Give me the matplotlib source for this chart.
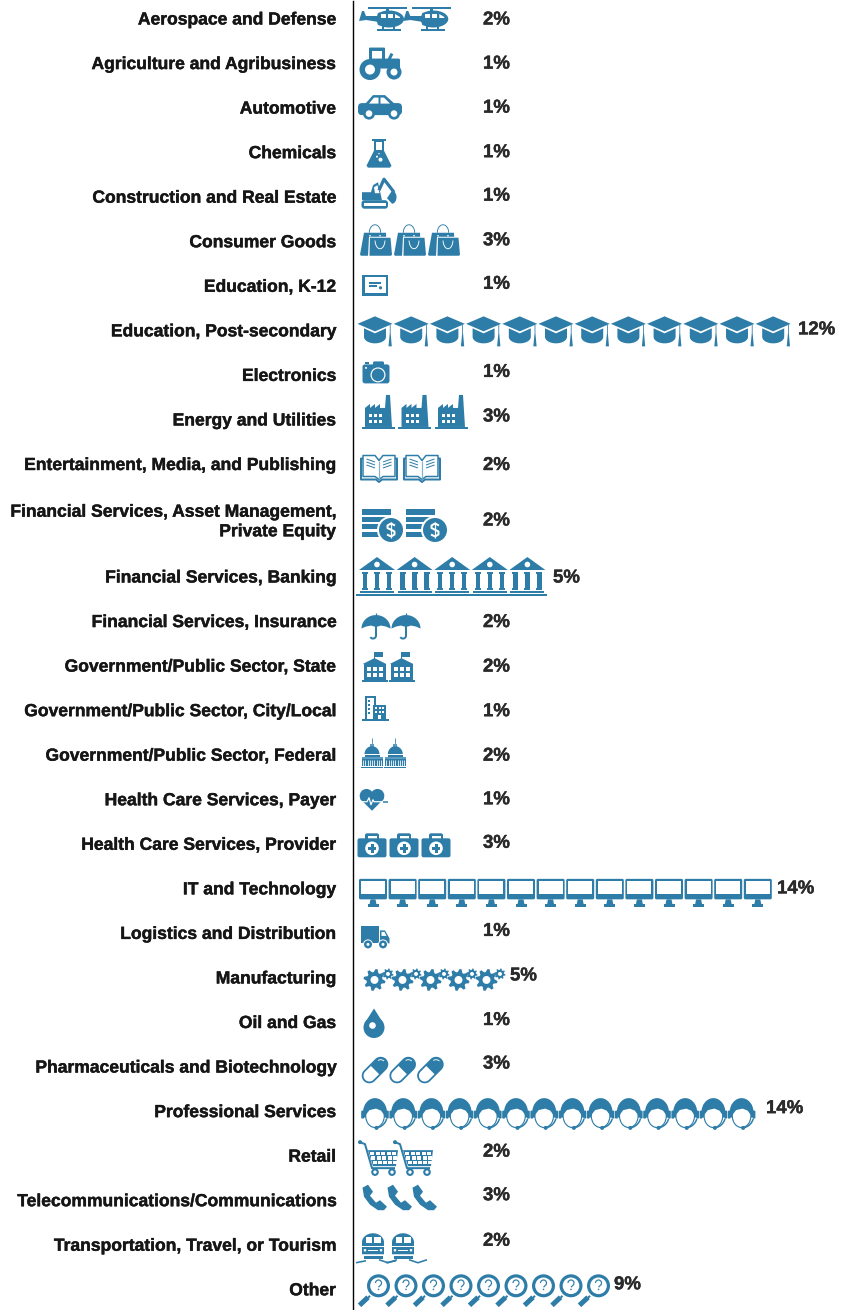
import matplotlib
matplotlib.use("Agg")
import matplotlib.pyplot as plt
import matplotlib.patheffects as pe
import numpy as np
from matplotlib.patches import Circle, Ellipse, FancyBboxPatch, Polygon, Rectangle

BLUE = "#2e7da8"
WHITE = "white"
plt.rcParams["font.family"] = ["Liberation Sans", "DejaVu Sans"]

categories = [
    "Aerospace and Defense", "Agriculture and Agribusiness", "Automotive", "Chemicals",
    "Construction and Real Estate", "Consumer Goods", "Education, K-12",
    "Education, Post-secondary", "Electronics", "Energy and Utilities",
    "Entertainment, Media, and Publishing",
    "Financial Services, Asset Management,\nPrivate Equity", "Financial Services, Banking",
    "Financial Services, Insurance", "Government/Public Sector, State",
    "Government/Public Sector, City/Local", "Government/Public Sector, Federal",
    "Health Care Services, Payer", "Health Care Services, Provider", "IT and Technology",
    "Logistics and Distribution", "Manufacturing", "Oil and Gas",
    "Pharmaceuticals and Biotechnology", "Professional Services", "Retail",
    "Telecommunications/Communications", "Transportation, Travel, or Tourism", "Other",
]
percents = [2, 1, 1, 1, 1, 3, 1, 12, 1, 3, 2, 2, 5, 2, 2, 1, 2, 1, 3, 14, 1, 5, 1, 3, 14, 2, 3, 2, 9]
icons = ["heli", "tractor", "car", "flask", "digger", "bag", "cert", "cap", "camera", "factory",
         "book", "coins", "bank", "umbrella", "state", "city", "capitol", "heart", "kit", "monitor",
         "truck", "gear", "drop", "pill", "head", "cart", "phone", "train", "lens"]

# icon layout: first centre x, pitch, y offset from the row
ICON_X = [381, 380, 380, 379, 379, 376, 375, 375, 376, 378, 379, 382, 377, 376, 374.5, 375, 372,
          373, 372, 373, 375, 378, 374, 375, 375, 378, 375, 373, 374]
ICON_PITCH = [44.3, 1, 1, 1, 1, 34, 1, 36.2, 1, 36.5, 43, 44, 37.6, 30, 27, 1, 23.3, 1, 32, 29.6, 1,
              28, 1, 27.7, 28.2, 35, 25, 30, 27.5]
ICON_DY = [0, -1, -1, 1, -4, -1, -1, 0, -3, -7, 3, 3, -2, 4, 1, -3, -1, 0, 1, 4, 3, 0, 1, 3, 2, 2,
           -3, 2, 0]
PCT_DY = [0, -.5, -1, -1, -2, -2, -3, -2, -4, -4, 0, -1, 0, 0, 0, 0, 0, -1, -2, -1, -3, -3, -3, -4,
          -4, -5, -6, -5, -6]
PCT_X = {7: 798, 12: 553, 19: 777, 21: 510, 24: 766, 28: 614}


class Icon:
    def __init__(self, ax, x, y):
        self.ax, self.o = ax, np.array([x, y])

    def poly(self, pts, c=BLUE):
        self.ax.add_patch(Polygon(np.array(pts, float) + self.o, fc=c, lw=0))

    def rect(self, x0, y0, x1, y1, c=BLUE):
        self.ax.add_patch(Rectangle(self.o + (x0, y0), x1 - x0, y1 - y0, fc=c, lw=0))

    def rnd(self, x0, y0, x1, y1, r=1.5, c=BLUE):
        self.ax.add_patch(FancyBboxPatch(self.o + (x0 + r, y0 + r), x1 - x0 - 2 * r, y1 - y0 - 2 * r,
                                         boxstyle=f"round,pad={r}", fc=c, lw=0))

    def circ(self, x, y, r, c=BLUE):
        self.ax.add_patch(Circle(self.o + (x, y), r, fc=c, lw=0))

    def oval(self, x, y, rx, ry, c=BLUE):
        self.ax.add_patch(Ellipse(self.o + (x, y), 2 * rx, 2 * ry, fc=c, lw=0))

    def line(self, pts, w=1.5, c=BLUE):
        p = np.array(pts, float) + self.o
        self.ax.plot(p[:, 0], p[:, 1], color=c, lw=w * 0.72, solid_capstyle="butt",
                     solid_joinstyle="round")


def arc(x, y, rx, ry, a0, a1, n=24):
    t = np.radians(np.linspace(a0, a1, n))
    return np.c_[x + rx * np.cos(t), y + ry * np.sin(t)]


def heli(d):
    d.rect(-13, -11.8, 26, -10)
    d.rect(5, -12.5, 8, -7)
    d.poly([(-22, 2), (-19, -8), (-17, -8), (-15, -3), (-2, -3), (-2, 3), (-15, 1)])
    d.poly(np.r_[arc(8, 0, 15, 8.5, -110, 110), [(-3, 6), (-5, 0), (-3, -6)]])
    d.rect(0, -5, 5, -1.5, WHITE)
    d.rect(7, -5, 12, -1.5, WHITE)
    d.poly([(14, -5), (19, -2), (19, -1), (14, -1)], WHITE)
    d.rect(-4, 9.8, 20, 11.6)
    d.rect(1, 7, 3, 10)
    d.rect(12, 7, 14, 10)


def tractor(d):
    d.rnd(-11, -15, 5, 0, 1)
    d.rect(-8, -12, 2, -3, WHITE)
    d.rnd(-11, -4, 20, 6, 1.5)
    d.line([(9, -3), (12, -9)], 3)
    d.circ(-10, 7, 10.5)
    d.circ(-10, 7, 5, WHITE)
    d.circ(14, 9.5, 7.5)
    d.circ(14, 9.5, 3.5, WHITE)


def car(d):
    d.rnd(-22, -4, 22, 8, 4)
    d.poly([(-15, -3), (-7, -12), (5, -12), (15, -3)])
    d.poly([(-11, -3.5), (-6, -9.5), (-1.5, -9.5), (-1.5, -3.5)], WHITE)
    d.poly([(0.5, -3.5), (0.5, -9.5), (4, -9.5), (10, -3.5)], WHITE)
    for x in (-11, 14):
        d.circ(x, 6.5, 6)
        d.circ(x, 6.5, 3.3, WHITE)


def flask(d):
    d.rect(-7, -15, 7, -12.5)
    d.poly([(-5, -13), (5, -13), (5, -3), (12.5, 12), (11, 14), (-11, 14), (-12.5, 12), (-5, -3)])
    d.poly([(-3, -12), (3, -12), (3, -4), (-3, -4)], WHITE)
    d.circ(1.5, 6, 2, WHITE)
    d.circ(-2, 3, 1, WHITE)
    d.circ(0, 0, 0.7, WHITE)


def digger(d):
    d.rnd(-17.5, 7, 9, 15.5, 3)
    d.rect(-15, 10, 6.5, 12.5, WHITE)
    d.poly([(-17, -1), (-8, -1), (-6, -8), (-1, -11), (3, 7), (-17, 7)])
    d.poly([(-5, -6), (-1.5, -8), (0.5, 0), (-4, 0)], WHITE)
    d.line([(0, -3), (5, -14), (15, -1)], 3.2)
    d.poly(np.r_[arc(13, 4, 4.5, 6.5, -90, 90), [(8, 5)]])


def bag(d):
    d.line(arc(-1, -8, 5.7, 8, 180, 360), 0.9)
    d.poly([(-16, 14), (-12, -8), (10, -8), (11, 15), (-15, 15)])
    d.poly([(-7, -4), (16, -4), (17, 16), (-8, 16)], WHITE)
    d.poly([(-6, -3), (14.5, -3), (16, 14), (15, 15), (-6.5, 15)])
    d.line(arc(4, -1, 5, 9, 5, 175), 0.9, WHITE)
    d.circ(-6, -5, 0.8, WHITE)
    d.circ(4, -5, 0.8, WHITE)


def cert(d):
    d.rect(-13, -10.5, 13, 10.5)
    d.rect(-10.5, -8, 10.5, 8, WHITE)
    d.rect(-6.5, -3.5, 6, -1.5)
    d.rect(-6.5, 0, 2, 1.8)
    d.circ(5.5, 2.5, 1.6)


def cap(d):
    d.poly([(-17.5, -7), (0, -14.5), (17.5, -7), (0, 0.5)])
    d.poly(np.r_[[(-11, -2.5), (0, 2.5), (11, -2.5), (11, 6)], arc(0, 6, 11, 6.5, 0, 180)])
    d.poly([(13.5, 15.5), (16.8, 15.5), (15.6, 2), (15.6, -6), (14.8, -6), (14.8, 2)])


def camera(d):
    d.rnd(-13.5, -8, 13.5, 11, 2.5)
    d.rnd(-3, -11, 8, -6, 1.5)
    d.rect(-11.5, -10, -7.5, -8)
    d.circ(2, 2.5, 7.5, WHITE)
    d.circ(2, 2.5, 6.3)
    d.circ(-10, -4.5, 1, WHITE)


def factory(d):
    d.rect(-16.5, 14, 16.5, 16.5)
    d.poly([(-13, 14), (-13, -5), (-8, -9), (-8, -5), (-3, -9), (-3, -5), (2, -9), (2, -5), (7, -5),
            (8, -18), (12, -18), (14, 14)])
    for yy in (1, 7):
        for xx in (-9, -4, 1):
            d.rect(xx, yy, xx + 3, yy + 3, WHITE)


def book(d):
    d.line([(-16, -9), (-18, -9), (-18, 12), (-3, 12), (0, 14.5), (3, 12), (18, 12), (18, -9), (16, -9)], 2)
    d.line([(0, -7), (-4, -12), (-16, -12), (-16, 9), (-4, 9), (0, 12), (4, 9), (16, 9), (16, -12),
            (4, -12), (0, -7)], 1.5)
    d.line([(0, -7), (0, 11)], 1.2, "#7fb2cf")
    for yy in (-8.5, -5.5, -2.5):
        d.line([(-12.5, yy), (-4, yy + 3)], 1)
        d.line([(12.5, yy), (4, yy + 3)], 1)


def coins(d):
    d.rect(-20, -15, 9, -9.5)
    d.rect(-20, -7, 4, -2.5)
    d.rect(-20, 0, 0, 4.5)
    d.rect(-20, 8, 0, 13)
    d.circ(9, 6, 14, WHITE)
    d.circ(9, 6, 12)
    d.line([(13, 1.5), (9, -0.5), (5.5, 1.5), (5.5, 4), (12.5, 7.5), (12.5, 10.5), (9, 12.5), (5, 10.5)], 2, WHITE)
    d.line([(9, -2), (9, 14)], 1.2, WHITE)


def bank(d):
    d.poly([(-18, -5), (0, -18), (18, -5)])
    d.circ(0, -10.5, 2.8, WHITE)
    for xx in (-12, 0, 12):
        d.rect(xx - 3, -3, xx + 3, -1)
        d.rect(xx - 2.2, -1, xx + 2.2, 13)
        d.rect(xx - 3, 12.5, xx + 3, 14.5)
    d.rect(-17, 15.5, 17, 18)


def umbrella(d):
    d.poly(np.r_[arc(0, 3, 14.5, 13.5, 180, 360), [(10, 1), (5, 0), (0, 1.5), (-5, 0), (-10, 1)]])
    d.line([(0, -13), (0, -10)], 1.2)
    d.line(np.r_[[(0, 1), (0, 10)], arc(-3, 10, 3, 3, 0, 150)], 2)


def state(d):
    d.rect(-0.5, -15, 0.7, -8)
    d.rect(0, -15, 8, -10)
    d.poly([(-12, -3), (0, -9), (12, -3)])
    d.rect(-11, -3, 11, 13)
    d.rect(-13, 13, 13, 15)
    for yy in (0, 6):
        for xx in (-8, -2, 4):
            d.rect(xx, yy, xx + 4, yy + 4, WHITE)


def city(d):
    d.rect(-10, -12, 1, 11)
    d.rect(-8, -10, -1, 11, WHITE)
    for yy in (-8, -4, 0, 4):
        d.rect(-7.5, yy, -5.5, yy + 2)
    d.rect(-2, -3, 11, 11)
    for yy in (-1, 3):
        for xx in (0, 3.5, 7):
            d.rect(xx, yy, xx + 2, yy + 2.2, WHITE)
    d.rect(3.2, 7, 6.2, 11, WHITE)
    d.rect(-13, 11, 14, 13)


def capitol(d):
    d.line([(0, -16), (0, -8)], 1, "#5c9cc0")
    d.rect(-2, -10, 2, -7, "#5c9cc0")
    d.poly(arc(0, 0, 7.5, 8, 180, 360))
    d.rect(-7.5, 0, 7.5, 1, WHITE)
    d.rect(-7.5, 1, 7.5, 3)
    d.rect(-10.5, 3, 10.5, 5, "#5c9cc0")
    d.rect(-10.5, 5, 10.5, 12, BLUE)
    for xx in np.arange(-9, 10, 2.25):
        d.line([(xx, 6), (xx, 12)], 0.8, WHITE)
    d.rect(-11, 12.5, 11, 14, BLUE)


def heart(d):
    d.circ(-6.5, -4, 6.8)
    d.circ(4.5, -4, 6.8)
    d.poly([(-13, -1), (-1, 11), (11, -1), (4, -7), (-6, -7)])
    d.line([(-12, 2), (-6, 2), (-4, -2), (-2, 5), (0, 0), (1, 2), (11, 2)], 1.2, WHITE)
    d.line([(10, 1.8), (15, 1.8)], 1.5)


def kit(d):
    d.rnd(-7, -12, 7, -3, 2, BLUE)
    d.rect(-4.5, -9.5, 4.5, -6, WHITE)
    d.rnd(-14.5, -7, 14.5, 12, 2)
    d.circ(0, 3, 6.8, WHITE)
    d.rect(-4.3, 1.5, 4.3, 4.5)
    d.rect(-1.5, -1.3, 1.5, 7.3)


def monitor(d):
    d.rnd(-14, -14, 14, 6.5, 1.5)
    d.rect(-12, -12, 12, 1.5, WHITE)
    d.poly([(-2.5, 6.5), (2.5, 6.5), (3.5, 11.5), (-3.5, 11.5)])
    d.rect(-5.5, 11.5, 5.5, 14)


def truck(d):
    d.rect(-14.5, -10, 4, 7)
    d.poly([(5, -6), (10, -6), (14.5, 2), (14.5, 7), (5, 7)])
    d.poly([(6.5, -4.5), (9.5, -4.5), (11.5, -0.5), (6.5, -0.5)], WHITE)
    for xx in (-7, 8):
        d.circ(xx, 8, 5, WHITE)
        d.circ(xx, 8, 4)
        d.circ(xx, 8, 1.5, WHITE)


def toothed(d, x, y, r, n):
    t = np.linspace(0, 2 * np.pi, n * 4, endpoint=False) + np.pi / (4 * n)
    rr = np.tile([r, r, r * 0.72, r * 0.72], n)
    d.poly(np.c_[x + rr * np.cos(t), y + rr * np.sin(t)])
    d.circ(x, y, r * 0.36, WHITE)


def gear(d):
    toothed(d, -3.5, 2, 11, 8)
    toothed(d, 10, -4, 5.5, 8)


def drop(d):
    d.circ(0, 4, 10.5)
    d.poly([(0, -15), (-9.5, 0), (9.5, 0)])
    d.circ(-1.5, 2, 3.3, WHITE)


def pill(d):
    rot = np.radians(-45)
    R = np.array([[np.cos(rot), -np.sin(rot)], [np.sin(rot), np.cos(rot)]])
    outer = np.r_[arc(8, 0, 7.6, 7.6, -90, 90), arc(-8, 0, 7.6, 7.6, 90, 270)]
    d.poly(outer @ R.T)
    inner = np.r_[[(0, -5.8), (0, 5.8)], arc(-8, 0, 5.8, 5.8, 90, 270)]
    d.poly(inner @ R.T, WHITE)
    d.line(arc(8, 0, 4.7, 4.7, -80, 0) @ R.T, 0.9, WHITE)


def head(d):
    d.poly(arc(0, -1, 12, 14.5, 160, 380))
    d.oval(0, 2.5, 9.8, 12)
    d.oval(0, 2.5, 8.7, 10.8, WHITE)
    # fringe over the top of the face
    d.poly([(-9, 1), (-5.5, -3.5), (1, -5), (6, -3), (9, 1), (10, -9), (-10, -9)])
    d.rnd(-13.8, -3, -11, 5, 1)
    d.rnd(11, -3, 13.8, 5, 1)
    d.line(arc(0, 2, 12, 12.3, 15, 82), 1.5)
    d.circ(1.5, 14.3, 2)


def cart(d):
    d.circ(-18, -16, 2)
    d.line([(-18, -16), (-13, -14), (-6, 10), (17, 10)], 2)
    d.poly([(-10, -8), (20, -8), (18, 8), (-5, 8)])
    for j, yy in enumerate((-6.3, -1.8, 2.8)):
        for i in range(5):
            xx = -8 + j * 1.3 + i * (5.6 - j * 0.2)
            d.rect(xx, yy, xx + 4, yy + 3.2, WHITE)
    for xx in (-3, 14):
        d.circ(xx, 14, 3.8)
        d.circ(xx, 14, 1.7, WHITE)


def phone(d):
    d.poly([(-12.5, -10), (-7, -13), (-2, -6), (-5, -2), (1, 5), (5, 2.5), (12, 9), (9, 12.5),
            (3, 12.5), (-5, 7), (-11, -1)])


def train(d):
    d.poly(np.r_[arc(0, -5, 11, 9, 180, 360), [(11, 7), (-11, 7)]])
    d.rect(-7.5, -10, -1, -4.5, WHITE)
    d.rect(1, -10, 7.5, -4.5, WHITE)
    d.rect(-11, -1, 11, 0, WHITE)
    d.rect(-5, 2.5, 5, 3.7, WHITE)
    d.circ(-8, 3, 1.3, WHITE)
    d.circ(8, 3, 1.3, WHITE)
    d.rect(-9.5, 8.5, 9.5, 11.5)
    d.line([(-17, 15.5), (-7, 13.5)], 1.6)
    d.line([(6, 12.5), (15, 15.5), (24, 12.5)], 1.6)


def lens(d):
    d.line([(-4, 6), (-6, 8)], 2)
    d.line([(-6, 7.5), (-14.5, 15.5)], 5)
    d.circ(4.5, -4, 11.5)
    d.circ(4.5, -4, 8.3, WHITE)
    d.line(np.r_[arc(4.5, -6.8, 3, 3, 180, 400), [(4.5, -2.6)]], 1.2)
    d.circ(4.5, -0.4, 0.8)


DRAW = dict(heli=heli, tractor=tractor, car=car, flask=flask, digger=digger, bag=bag, cert=cert,
            cap=cap, camera=camera, factory=factory, book=book, coins=coins, bank=bank,
            umbrella=umbrella, state=state, city=city, capitol=capitol, heart=heart, kit=kit,
            monitor=monitor, truck=truck, gear=gear, drop=drop, pill=pill, head=head, cart=cart,
            phone=phone, train=train, lens=lens)


def row_y(i):
    if i <= 10:
        return 19 + 44.55 * i
    if i == 11:
        return 521
    return 577 + 44.55 * (i - 12)


def main():
    fig = plt.figure(figsize=(8.51, 13.10), dpi=100)
    ax = fig.add_axes([0, 0, 1, 1])
    ax.set_xlim(0, 851)
    ax.set_ylim(1310, 0)
    ax.axis("off")
    ax.plot([353.4, 353.4], [1, 1310], color="black", lw=1.0)

    for i, (cat, pct, name) in enumerate(zip(categories, percents, icons)):
        y = row_y(i)
        ax.text(336, y + 1, cat, ha="right", va="center", fontsize=12.6, fontweight="bold",
                color="#161616", linespacing=1.38,
                path_effects=[pe.withStroke(linewidth=0.3, foreground="#161616")])
        for k in range(pct):
            DRAW[name](Icon(ax, ICON_X[i] + k * ICON_PITCH[i], y + ICON_DY[i]))
        if name == "bank":
            x1 = ICON_X[i] + (pct - 1) * ICON_PITCH[i] + 19.5
            ax.add_patch(Rectangle((356, y + 16.5), x1 - 356, 2.6, fc=BLUE, lw=0))
        ax.text(PCT_X.get(i, 483), y + PCT_DY[i] + 1, f"{pct}%", ha="left", va="center", fontsize=13.4,
                fontweight="bold", color="#2a2a2a",
                path_effects=[pe.withStroke(linewidth=0.3, foreground="#2a2a2a")])

    fig.savefig("out.png", dpi=100)


if __name__ == "__main__":
    main()
